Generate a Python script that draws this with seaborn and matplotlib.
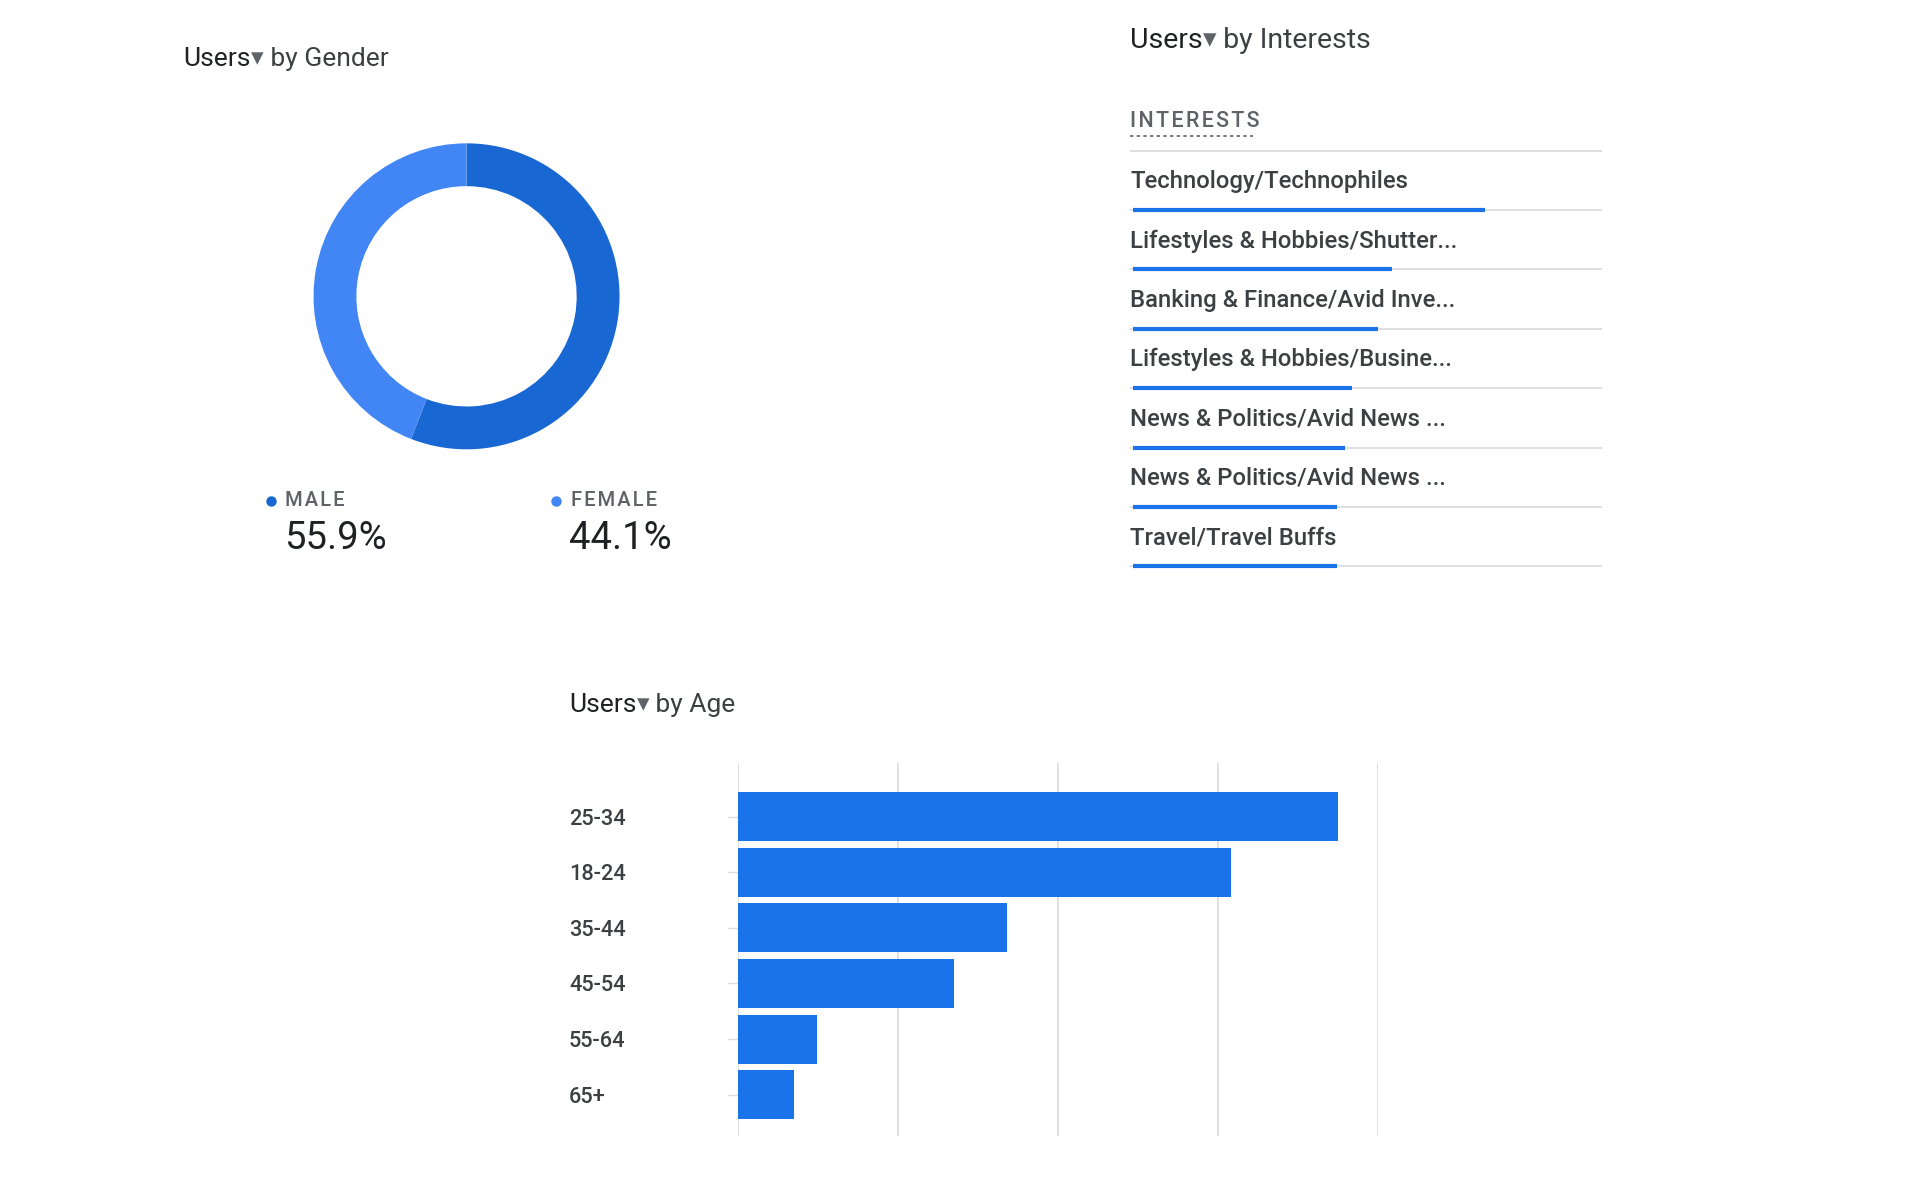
import matplotlib.pyplot as plt
import pandas as pd
import seaborn as sns

# --- data ---
gender_labels = ["MALE", "FEMALE"]
gender_share = [55.9, 44.1]

interest_labels = [
    "Technology/Technophiles",
    "Lifestyles & Hobbies/Shutter...",
    "Banking & Finance/Avid Inve...",
    "Lifestyles & Hobbies/Busine...",
    "News & Politics/Avid News ...",
    "News & Politics/Avid News ...",
    "Travel/Travel Buffs",
]
interest_share = [0.753, 0.556, 0.525, 0.470, 0.455, 0.439, 0.439]

age_groups = ["25-34", "18-24", "35-44", "45-54", "55-64", "65+"]
age_users = [750, 617, 336, 270, 99, 70]
age_grid = [0, 200, 400, 600, 800]

DARK = "#202124"
GREY = "#5f6368"
LABEL = "#3c4043"
LINE = "#dadce0"
BLUE = "#1a73e8"
MALE_C = "#1967d2"
FEMALE_C = "#4285f4"

sns.set_theme(style="white")
plt.rcParams["font.family"] = ["Roboto", "DejaVu Sans"]

W, H = 1568.0, 980.0  # coordinates measured on the screenshot


def fx(x):
    return x / W


def fy(y):
    return 1 - y / H


def spaced(s):
    # imitate css letter-spacing with hair spaces
    return "\u200a".join(s)


fig = plt.figure(figsize=(19.2, 12), dpi=100)
fig.patch.set_facecolor("white")
bg = fig.add_axes([0, 0, 1, 1])
bg.axis("off")


def card_title(x, y, rest, size):
    t1 = bg.text(fx(x), fy(y), "Users", transform=bg.transAxes, fontsize=size,
                 color=DARK, va="center", ha="left")
    t2 = bg.annotate("▾", xy=(1, 0), xycoords=t1, xytext=(0, 0.5),
                     textcoords="offset points", va="bottom", ha="left",
                     fontsize=size * 0.95, color=GREY)
    bg.annotate(" " + rest, xy=(1, 0), xycoords=t2, xytext=(0, -0.5),
                textcoords="offset points", va="bottom", ha="left",
                fontsize=size, color=LABEL)


# --- gender donut ---
card_title(150, 48, "by Gender", 19)
r = 153
ax_d = fig.add_axes([fx(381) - r / 1920, fy(242) - r / 1200, 2 * r / 1920, 2 * r / 1200])
ax_d.pie(gender_share, colors=[MALE_C, FEMALE_C], startangle=90, counterclock=False,
         radius=1, wedgeprops=dict(width=0.28, linewidth=0))
ax_d.set_xlim(-1, 1)
ax_d.set_ylim(-1, 1)
ax_d.set_aspect("auto")
ax_d.axis("off")

for lab, val, col, x in zip(gender_labels, gender_share, [MALE_C, FEMALE_C], [221, 454]):
    bg.plot(fx(x), fy(409), "o", color=col, markersize=6.5, transform=bg.transAxes)
    bg.text(fx(x + 12), fy(409), spaced(lab), transform=bg.transAxes, fontsize=14.5,
            color=GREY, fontweight="medium", va="center", ha="left")
    bg.text(fx(x + 11), fy(440), f"{val}%", transform=bg.transAxes, fontsize=27.5,
            color=DARK, va="center", ha="left")

# --- interests list ---
card_title(923, 33, "by Interests", 20.5)
bg.text(fx(923), fy(99), spaced("INTERESTS"), transform=bg.transAxes, fontsize=15.5,
        color=GREY, fontweight="medium", va="center", ha="left")
bg.plot([fx(923), fx(1023)], [fy(111), fy(111)], color=GREY, lw=1.2,
        linestyle=(0, (2, 2)), transform=bg.transAxes)

ax_i = fig.add_axes([fx(923), fy(462.5), fx(1308) - fx(923), fy(123) - fy(462.5)])
n = len(interest_labels)
ax_i.set_xlim(0, 1)
ax_i.set_ylim(n, 0)
ax_i.axis("off")
ax_i.hlines(0, 0, 1, color=LINE, lw=1.3, clip_on=False)
for i, (lab, val) in enumerate(zip(interest_labels, interest_share)):
    ax_i.hlines(i + 1, 0, 1, color=LINE, lw=1.3, clip_on=False)
    ax_i.hlines(i + 1, 0.005, val, color=BLUE, lw=3, clip_on=False)
    ax_i.text(0, i + 0.52, lab, fontsize=17.2, color=LABEL, fontweight="medium",
              va="center", ha="left")

# --- age bar chart ---
card_title(465, 576, "by Age", 19)
ax_a = fig.add_axes([fx(603), fy(928), fx(1125) - fx(603), fy(623) - fy(928)])
df_age = pd.DataFrame({"age": age_groups, "users": age_users})
sns.barplot(data=df_age, x="users", y="age", orient="h", color=BLUE,
            saturation=1, width=0.88, ax=ax_a, linewidth=0)
ax_a.set_xlim(age_grid[0], age_grid[-1])
ax_a.set_ylim(5.75, -0.97)
ax_a.set_xticks(age_grid)
ax_a.set_xticklabels([])
ax_a.grid(axis="x", color=LINE, lw=1.2)
ax_a.set_axisbelow(True)
for s in ax_a.spines.values():
    s.set_visible(False)
ax_a.set_xlabel("")
ax_a.set_ylabel("")
ax_a.tick_params(axis="x", length=0)
ax_a.tick_params(axis="y", length=7, color=LINE, width=1, pad=115,
                 labelsize=15.7, labelcolor=LABEL, left=True)
for lbl in ax_a.get_yticklabels():
    lbl.set_ha("left")
    lbl.set_fontweight("medium")

fig.savefig("out.png", dpi=100, facecolor="white")
